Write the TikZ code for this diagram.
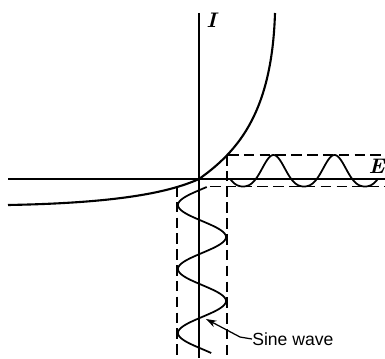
\documentclass[tikz,border=0pt]{standalone}
\usepackage{fontspec}
\setsansfont{Liberation Sans}
\usetikzlibrary{arrows.meta}
\begin{document}
\begin{tikzpicture}[x=0.02cm,y=-0.02cm,
  axis/.style={line width=0.9pt},
  curve/.style={line width=1.2pt, line join=round},
  wave/.style={line width=1.0pt, line join=round},
  dashln/.style={line width=0.6pt, dash pattern=on 6pt off 3pt},
  lbl/.style={inner sep=0pt, font=\bfseries\itshape\large}]
\useasboundingbox (0,0) rectangle (385,358);
% axes
\coordinate (ytop) at (199,13);
\coordinate (ybot) at (199,358);
\coordinate (xl) at (8,179);
\coordinate (xr) at (385,179);
\coordinate (o) at (199,179);
\draw[axis] (ytop) -- (ybot);
\draw[axis] (xl) -- (xr);
% dashed guides
\coordinate (ul) at (228,155); \coordinate (ur) at (385,155);
\coordinate (ll) at (210,186.5); \coordinate (lr) at (385,186.5);
\coordinate (vlt) at (177,186); \coordinate (vlb) at (177,358);
\coordinate (vrt) at (227,155); \coordinate (vrb) at (227,358);
\draw[dashln] (ul) -- (ur);
\draw[dashln] (ll) -- (lr);
\draw[dashln] (vlt) -- (vlb);
\draw[dashln] (vrt) -- (vrb);
% characteristic curve
\coordinate (cl) at (8,205);
\coordinate (ct) at (275,13);
\draw[curve] (cl) .. controls (120,203) and (170,192) .. (o)
             .. controls (240,150) and (272,110) .. (ct);
% vertical sine (input)
\draw[wave] plot[domain=187:353, samples=140, smooth] ({202-24*sin(5.625*(\x-189))}, \x);
% horizontal distorted wave (output)
\draw[wave] plot[domain=230:378, samples=160, smooth]
  (\x, {179-(3.65+15.75*sin(270+5.902*(\x-243))+4.6*sin(270+5.902*(\x-243))^2)});
% labels
\node[lbl, anchor=west] (Ilab) at (206,20) {I};
\node[lbl, anchor=east] (Elab) at (385,166) {E};
\node[font=\sffamily\fontsize{10}{12}\selectfont, anchor=west, inner sep=0pt] (sw) at (252,339) {Sine wave};
\coordinate (tip) at (206,319);
\coordinate (bend) at (240,337);
\draw[line width=0.7pt, -{Stealth[length=6pt,width=4pt]}] (sw.west) -- (bend) -- (tip);
\end{tikzpicture}
\end{document}
